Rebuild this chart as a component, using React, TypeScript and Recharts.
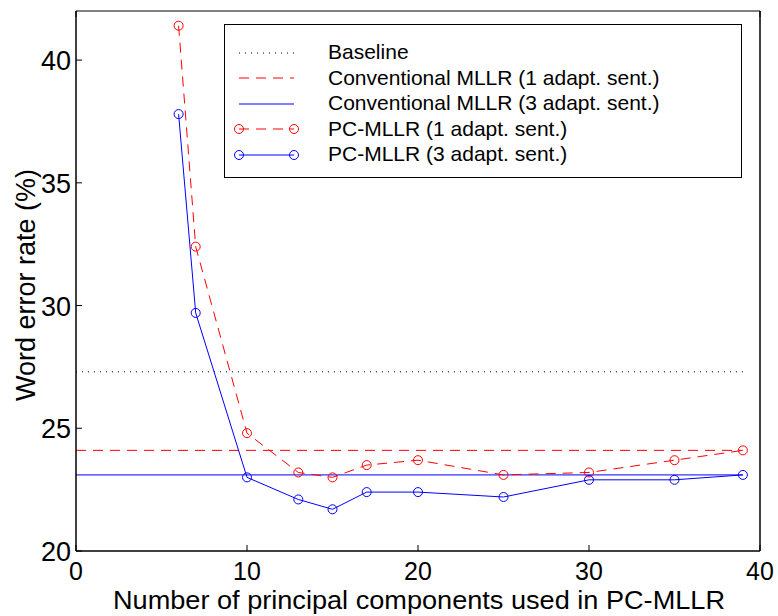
import React from 'react';
import { LineChart, Line, XAxis, YAxis, ReferenceLine, Legend } from 'recharts';

const xValues = [6, 7, 10, 13, 15, 17, 20, 25, 30, 35, 39];
const pcMllr1 = [41.4, 32.4, 24.8, 23.2, 23.0, 23.5, 23.7, 23.1, 23.2, 23.7, 24.1];
const pcMllr3 = [37.8, 29.7, 23.0, 22.1, 21.7, 22.4, 22.4, 22.2, 22.9, 22.9, 23.1];
const baselineWer = 27.3;
const conv1Wer = 24.1;
const conv3Wer = 23.1;
const refXRange = [0, 39];
const xTicks = [0, 10, 20, 30, 40];
const yTicks = [20, 25, 30, 35, 40];
const legendNames = [
  'Baseline',
  'Conventional MLLR (1 adapt. sent.)',
  'Conventional MLLR (3 adapt. sent.)',
  'PC-MLLR (1 adapt. sent.)',
  'PC-MLLR (3 adapt. sent.)',
];

const data = xValues.map((x, i) => ({ x, pc1: pcMllr1[i], pc3: pcMllr3[i] }));

const FONT = '"Liberation Sans", Arial, Helvetica, sans-serif';
const RED = '#ff0000';
const BLUE = '#0000ff';
const TICK_LEN = 6;

const BottomTick = (p: any) => (
  <g>
    <line x1={p.x} x2={p.x} y1={p.y} y2={p.y - TICK_LEN} stroke="#000" strokeWidth={1} />
    <text x={p.x} y={p.y + 29} textAnchor="middle" fontSize={25} fontFamily={FONT} fill="#000">
      {p.payload.value}
    </text>
  </g>
);
const TopTick = (p: any) => (
  <line x1={p.x} x2={p.x} y1={p.y} y2={p.y + TICK_LEN} stroke="#000" strokeWidth={1} />
);
const LeftTick = (p: any) => (
  <g>
    <line x1={p.x} x2={p.x + TICK_LEN} y1={p.y} y2={p.y} stroke="#000" strokeWidth={1} />
    <text x={p.x - 5} y={p.y + 10} textAnchor="end" fontSize={27} fontFamily={FONT} fill="#000">
      {p.payload.value}
    </text>
  </g>
);
const RightTick = (p: any) => (
  <line x1={p.x} x2={p.x - TICK_LEN} y1={p.y} y2={p.y} stroke="#000" strokeWidth={1} />
);

const legendIcon = (i: number) => {
  const y = 10;
  if (i === 0)
    return <line x1={0} x2={55} y1={y} y2={y} stroke="#000" strokeWidth={1} strokeDasharray="1 5" />;
  if (i === 1)
    return <line x1={0} x2={55} y1={y} y2={y} stroke={RED} strokeWidth={1} strokeDasharray="10 7" />;
  if (i === 2) return <line x1={0} x2={55} y1={y} y2={y} stroke={BLUE} strokeWidth={1} />;
  const c = i === 3 ? RED : BLUE;
  return (
    <g>
      <line x1={0} x2={55} y1={y} y2={y} stroke={c} strokeWidth={1} strokeDasharray={i === 3 ? '10 7' : undefined} />
      <circle cx={0} cy={y} r={4.5} stroke={c} fill="none" />
      <circle cx={55} cy={y} r={4.5} stroke={c} fill="none" />
    </g>
  );
};

const LegendBox = () => (
  <div
    style={{
      width: 518,
      height: 154,
      boxSizing: 'border-box',
      border: '1.5px solid #000',
      background: '#fff',
      paddingTop: 15,
      fontFamily: FONT,
      fontSize: 21,
      color: '#000',
    }}
  >
    {legendNames.map((n, i) => (
      <div key={n} style={{ position: 'relative', height: 25.5, lineHeight: '25.5px' }}>
        <svg width={70} height={20} style={{ position: 'absolute', left: 9, top: 2.5, overflow: 'visible' }}>
          <g transform="translate(5,0)">{legendIcon(i)}</g>
        </svg>
        <span style={{ position: 'absolute', left: 103, top: -1, whiteSpace: 'nowrap' }}>{n}</span>
      </div>
    ))}
  </div>
);

export default function App() {
  return (
    <div style={{ position: 'absolute', left: 0, top: 0, background: '#fff' }}>
      <LineChart width={778} height={616} data={data} margin={{ top: 10, right: 17, bottom: 64, left: 75 }}>
        <XAxis
          dataKey="x"
          type="number"
          domain={[0, 40]}
          ticks={xTicks}
          interval={0}
          height={1}
          tickSize={0}
          tickMargin={0}
          tickLine={false}
          tick={BottomTick}
          axisLine={{ stroke: '#000', strokeWidth: 1.5 }}
          label={() => (
            <text
              x={419}
              y={609}
              textAnchor="middle"
              fontSize={25}
              fontFamily={FONT}
              fill="#000"
              textLength={612}
              lengthAdjust="spacingAndGlyphs"
            >
              Number of principal components used in PC-MLLR
            </text>
          )}
        />
        <XAxis
          xAxisId="top"
          orientation="top"
          type="number"
          domain={[0, 40]}
          ticks={xTicks}
          interval={0}
          height={1}
          tickSize={0}
          tickMargin={0}
          tickLine={false}
          tick={TopTick}
          axisLine={{ stroke: '#000', strokeWidth: 1 }}
        />
        <YAxis
          type="number"
          domain={[20, 42]}
          ticks={yTicks}
          interval={0}
          width={1}
          tickSize={0}
          tickMargin={0}
          tickLine={false}
          tick={LeftTick}
          axisLine={{ stroke: '#000', strokeWidth: 1.5 }}
          label={() => (
            <text
              x={35}
              y={285}
              transform="rotate(-90 35 285)"
              textAnchor="middle"
              fontSize={27}
              fontFamily={FONT}
              fill="#000"
            >
              Word error rate (%)
            </text>
          )}
        />
        <YAxis
          yAxisId="right"
          orientation="right"
          type="number"
          domain={[20, 42]}
          ticks={yTicks}
          interval={0}
          width={1}
          tickSize={0}
          tickMargin={0}
          tickLine={false}
          tick={RightTick}
          axisLine={{ stroke: '#000', strokeWidth: 1.5 }}
        />
        <ReferenceLine
          segment={[{ x: refXRange[0], y: baselineWer }, { x: refXRange[1], y: baselineWer }]}
          stroke="#000"
          strokeWidth={1}
          strokeDasharray="1 5"
        />
        <ReferenceLine
          segment={[{ x: refXRange[0], y: conv1Wer }, { x: refXRange[1], y: conv1Wer }]}
          stroke={RED}
          strokeWidth={1}
          strokeDasharray="10 7"
        />
        <ReferenceLine
          segment={[{ x: refXRange[0], y: conv3Wer }, { x: refXRange[1], y: conv3Wer }]}
          stroke={BLUE}
          strokeWidth={1}
        />
        <Line
          dataKey="pc1"
          stroke={RED}
          strokeWidth={1}
          strokeDasharray="10 7"
          dot={{ r: 4.5, stroke: RED, fill: 'none', strokeWidth: 1, strokeDasharray: '' }}
          isAnimationActive={false}
        />
        <Line
          dataKey="pc3"
          stroke={BLUE}
          strokeWidth={1}
          dot={{ r: 4.5, stroke: BLUE, fill: 'none', strokeWidth: 1 }}
          isAnimationActive={false}
        />
        <Legend
          layout="horizontal"
          verticalAlign="middle"
          align="center"
          content={LegendBox}
          wrapperStyle={{ position: 'absolute', left: 224, top: 24, width: 518, height: 154 }}
        />
      </LineChart>
    </div>
  );
}
